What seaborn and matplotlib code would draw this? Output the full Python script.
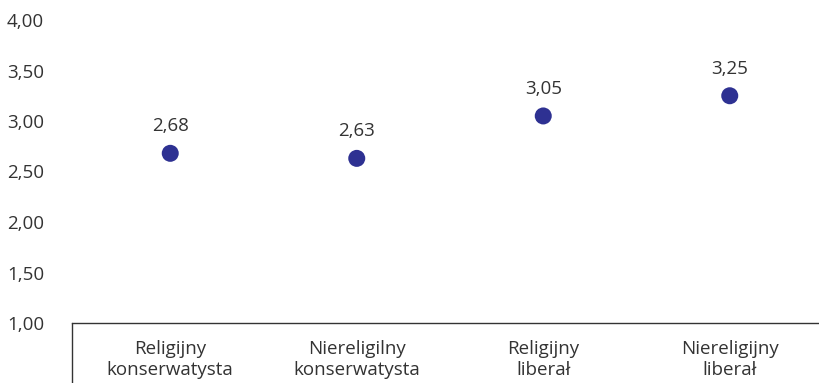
import matplotlib
matplotlib.use("Agg")
import matplotlib.pyplot as plt
import seaborn as sns
import pandas as pd

categories = ["Religijny\nkonserwatysta", "Niereligilny\nkonserwatysta",
              "Religijny\nliberał", "Niereligijny\nliberał"]
values = [2.68, 2.63, 3.05, 3.25]
y_ticks = [1.0, 1.5, 2.0, 2.5, 3.0, 3.5, 4.0]

sns.set_style("white")
plt.rcParams["font.family"] = ["Open Sans", "DejaVu Sans"]

df = pd.DataFrame({"group": categories, "score": values})

fig = plt.figure(figsize=(8.19, 3.83), dpi=100)
ax = fig.add_axes([77 / 819, 1 - 323 / 383, 746 / 819, 303 / 383])

sns.scatterplot(data=df, x="group", y="score", ax=ax, s=150,
                color="#2E3192", edgecolor="none", zorder=3)

ax.set_xlim(-0.5, 3.5)
ax.set_ylim(1.0, 4.0)
ax.set_yticks(y_ticks)
ax.set_yticklabels([f"{v:.2f}".replace(".", ",") for v in y_ticks])
ax.set_xlabel("")
ax.set_ylabel("")

for i, v in enumerate(values):
    ax.annotate(f"{v:.2f}".replace(".", ","), (i, v), xytext=(0, 13),
                textcoords="offset points", ha="center", va="bottom",
                fontsize=13.5, color="#333333")

for side in ["top", "right", "left"]:
    ax.spines[side].set_visible(False)
ax.spines["bottom"].set_color("#333333")
ax.spines["bottom"].set_linewidth(1.0)
ax.spines["bottom"].set_bounds(-0.5 - 5 / 186.5, 3.5)

# vertical separator line at left of the category axis
ax.plot([-0.5 - 5 / 186.5] * 2, [0, -0.25], transform=ax.get_xaxis_transform(),
        color="#333333", lw=1.0, clip_on=False)

ax.tick_params(axis="y", length=0, labelsize=13.5, labelcolor="#333333")
ax.tick_params(axis="x", length=0, pad=12, labelsize=13.5, labelcolor="#333333")
for lbl in ax.get_xticklabels():
    lbl.set_linespacing(1.25)
for lbl in ax.get_yticklabels():
    lbl.set_horizontalalignment("left")
    lbl.set_x(-70 / 746)
    lbl.set_transform(ax.get_yaxis_transform())

fig.savefig("out.png", dpi=100)
